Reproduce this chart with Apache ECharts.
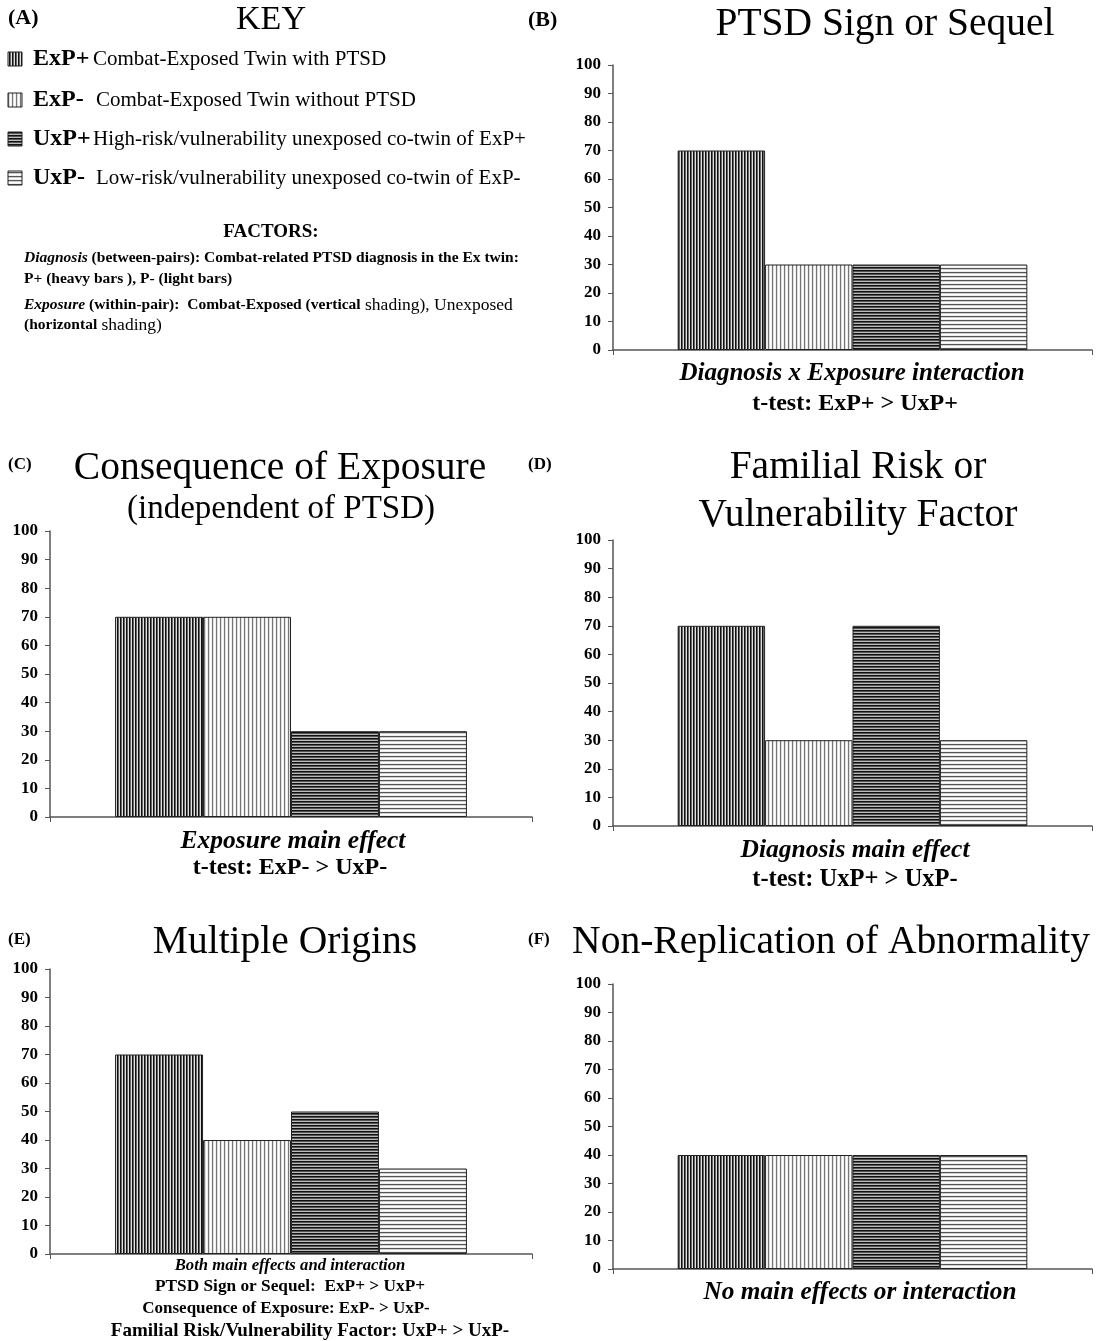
<!DOCTYPE html>
<html><head><meta charset="utf-8">
<script src="https://cdn.jsdelivr.net/npm/echarts@6/dist/echarts.min.js"></script>
<style>html,body{margin:0;padding:0;background:#fff}#c{width:1103px;height:1341px}</style>
</head><body><div id="c"></div>
<script>
// ---- data ----
const groups = ['ExP+', 'ExP-', 'UxP+', 'UxP-'];
const groupDesc = ['Combat-Exposed Twin with PTSD', 'Combat-Exposed Twin without PTSD',
  'High-risk/vulnerability unexposed co-twin of ExP+', 'Low-risk/vulnerability unexposed co-twin of ExP-'];
const ptsdSign = [70, 30, 30, 30];
const consequence = [70, 70, 30, 30];
const familial = [70, 30, 70, 30];
const multiple = [70, 40, 50, 30];
const nonReplication = [40, 40, 40, 40];
const yMin = 0, yMax = 100, yStep = 10;

// ---- patterns ----
function makePattern(vertical, cols) {
  const n = cols.length;
  const c = document.createElement('canvas');
  c.width = vertical ? n : 4; c.height = vertical ? 4 : n;
  const g = c.getContext('2d');
  cols.forEach((col, i) => {
    g.fillStyle = col;
    if (vertical) g.fillRect(i, 0, 1, 4); else g.fillRect(0, i, 4, 1);
  });
  return { image: c, repeat: 'repeat' };
}
const patterns = [
  makePattern(true, ['#111', '#666', '#e0e0e0']),
  makePattern(true, ['#777', '#ddd', '#fff', '#eee']),
  makePattern(false, ['#111', '#555', '#bbb']),
  makePattern(false, ['#555', '#ccc', '#fff', '#eee'])
];

const panels = [
  { vals: ptsdSign, grid: { left: 613, top: 65, width: 479, height: 285 } },
  { vals: consequence, grid: { left: 50, top: 531, width: 482, height: 286 } },
  { vals: familial, grid: { left: 613, top: 540, width: 479, height: 286 } },
  { vals: multiple, grid: { left: 50, top: 969, width: 482, height: 285 } },
  { vals: nonReplication, grid: { left: 613, top: 984, width: 479, height: 285 } }
];

const axisCol = '#555';
const grids = [], xAxes = [], yAxes = [], series = [];
panels.forEach((p, pi) => {
  grids.push(p.grid);
  xAxes.push({ type: 'category', gridIndex: pi, data: [''],
    axisLine: { lineStyle: { color: axisCol, width: 1.5 } },
    axisTick: { show: true, length: 5, lineStyle: { color: axisCol } },
    axisLabel: { show: false } });
  yAxes.push({ type: 'value', gridIndex: pi, min: yMin, max: yMax, interval: yStep,
    splitLine: { show: false },
    axisLine: { show: true, lineStyle: { color: axisCol, width: 1.5 } },
    axisTick: { show: true, length: 5, lineStyle: { color: axisCol } },
    axisLabel: { fontFamily: 'Liberation Serif', fontWeight: 'bold', fontSize: 17, color: '#000', margin: 12 } });
  groups.forEach((gname, gi) => {
    series.push({ type: 'bar', name: gname, xAxisIndex: pi, yAxisIndex: pi,
      data: [p.vals[gi]], barGap: '0%', barCategoryGap: '27%', silent: true,
      itemStyle: { color: patterns[gi], borderColor: '#222', borderWidth: 1 } });
  });
});

const serif = 'Liberation Serif';
function T(text, x, y, size, opts) {
  opts = opts || {};
  return { type: 'text', x: x, y: y, silent: true,
    style: { text: text, fill: '#000', textAlign: opts.align || 'center', textVerticalAlign: 'middle',
      font: (opts.italic ? 'italic ' : '') + (opts.bold ? 'bold ' : '') + size + 'px "' + serif + '"' } };
}
const g = [];
// Panel A key
g.push(T('(A)', 8, 18, 22, { bold: true, align: 'left' }));
g.push(T('KEY', 271, 20, 34));
const keyY = [59, 100, 139, 178];
groups.forEach((gname, i) => {
  g.push({ type: 'rect', shape: { x: 8, y: keyY[i] - 7, width: 14, height: 14 }, silent: true,
    style: { fill: patterns[i], stroke: '#222', lineWidth: 1 } });
  g.push(T(gname, 33, keyY[i], 24, { bold: true, align: 'left' }));
  g.push(T(groupDesc[i], i % 2 === 0 ? 93 : 96, keyY[i], 21, { align: 'left' }));
});
g.push(T('FACTORS:', 271, 232, 19, { bold: true }));
g.push({ type: 'text', x: 24, y: 258, silent: true, style: { rich: {
    i: { font: 'italic bold 15.5px "' + serif + '"', fill: '#000' },
    b: { font: 'bold 15.5px "' + serif + '"', fill: '#000' } },
  text: '{i|Diagnosis}{b| (between-pairs): Combat-related PTSD diagnosis in the Ex twin:}', textVerticalAlign: 'middle' } });
g.push(T('P+ (heavy bars ), P- (light bars)', 24, 279, 15.5, { bold: true, align: 'left' }));
g.push({ type: 'text', x: 24, y: 305, silent: true, style: { rich: {
    i: { font: 'italic bold 15.5px "' + serif + '"', fill: '#000' },
    b: { font: 'bold 15.5px "' + serif + '"', fill: '#000' },
    n: { font: '17.5px "' + serif + '"', fill: '#000' } },
  text: '{i|Exposure}{b| (within-pair):  Combat-Exposed (vertical}{n| shading), Unexposed}', textVerticalAlign: 'middle' } });
g.push({ type: 'text', x: 24, y: 325, silent: true, style: { rich: {
    b: { font: 'bold 15.5px "' + serif + '"', fill: '#000' },
    n: { font: '17.5px "' + serif + '"', fill: '#000' } },
  text: '{b|(horizontal}{n| shading)}', textVerticalAlign: 'middle' } });

// Panel B
g.push(T('(B)', 528, 20, 22, { bold: true, align: 'left' }));
g.push(T('PTSD Sign or Sequel', 885, 25, 39.5));
g.push(T('Diagnosis x Exposure interaction', 852, 374, 25, { bold: true, italic: true }));
g.push(T('t-test: ExP+ > UxP+', 855, 404, 24, { bold: true }));
// Panel C
g.push(T('(C)', 8, 465, 17, { bold: true, align: 'left' }));
g.push(T('Consequence of Exposure', 280, 469, 39.5));
g.push(T('(independent of PTSD)', 281, 509, 33));
g.push(T('Exposure main effect', 293, 841, 25.5, { bold: true, italic: true }));
g.push(T('t-test: ExP- > UxP-', 290, 868, 24, { bold: true }));
// Panel D
g.push(T('(D)', 528, 465, 17, { bold: true, align: 'left' }));
g.push(T('Familial Risk or', 858, 468, 39.5));
g.push(T('Vulnerability Factor', 858, 516, 39.5));
g.push(T('Diagnosis main effect', 855, 850, 25.5, { bold: true, italic: true }));
g.push(T('t-test: UxP+ > UxP-', 855, 880, 24.5, { bold: true }));
// Panel E
g.push(T('(E)', 8, 940, 17, { bold: true, align: 'left' }));
g.push(T('Both main effects and interaction', 290, 1266, 16.7, { bold: true, italic: true }));
g.push(T('Multiple Origins', 285, 943, 39.5));
g.push(T('PTSD Sign or Sequel:  ExP+ > UxP+', 290, 1287, 17.3, { bold: true }));
g.push(T('Consequence of Exposure: ExP- > UxP-', 286, 1309, 17, { bold: true }));
g.push(T('Familial Risk/Vulnerability Factor: UxP+ > UxP-', 310, 1331, 19, { bold: true }));
// Panel F
g.push(T('(F)', 528, 940, 17, { bold: true, align: 'left' }));
g.push(T('Non-Replication of Abnormality', 831, 943, 39.5));
g.push(T('No main effects or interaction', 860, 1292, 25.3, { bold: true, italic: true }));

const chart = echarts.init(document.getElementById('c'), null, { renderer: 'canvas' });
chart.setOption({
  animation: false, backgroundColor: '#fff',
  grid: grids, xAxis: xAxes, yAxis: yAxes, series: series, graphic: g
});
</script></body></html>
